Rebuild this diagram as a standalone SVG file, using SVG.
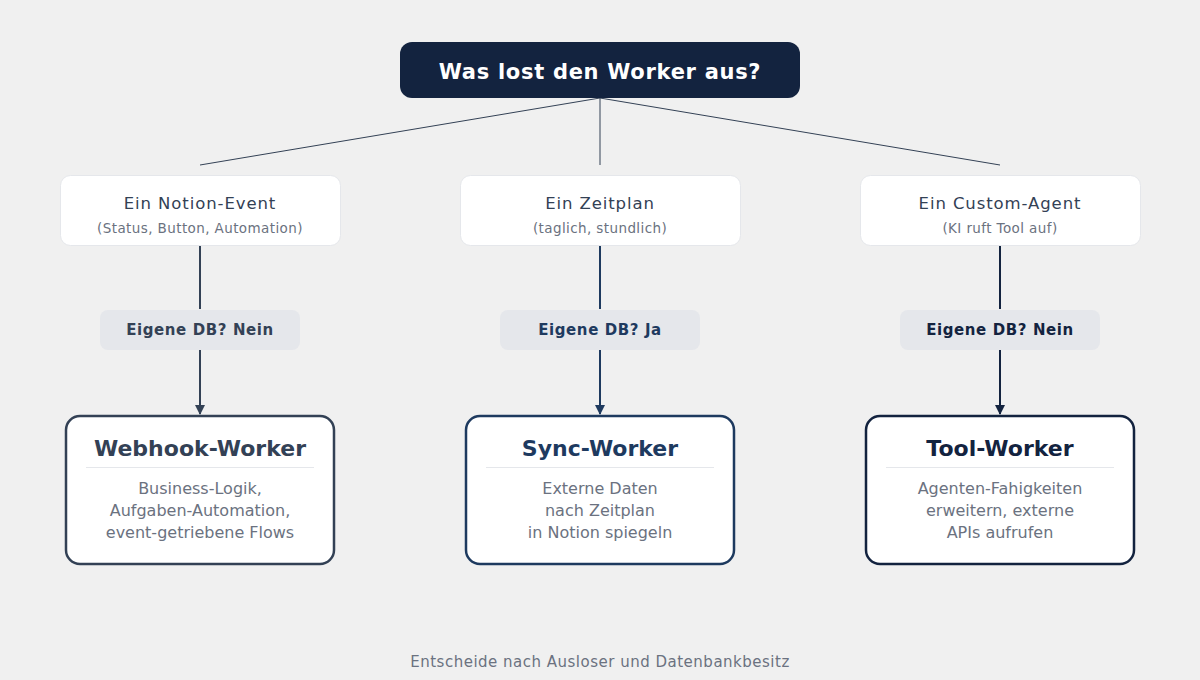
<svg xmlns="http://www.w3.org/2000/svg" width="1200" height="680" viewBox="0 0 1200 680">
<style>
text{font-family:"DejaVu Sans",sans-serif;text-anchor:middle}
.trig{fill:#fff;stroke:#e5e7eb;stroke-width:1}
.tt{font-size:16.5px;fill:#334155;letter-spacing:0.9px}
.ts{font-size:13.5px;fill:#6b7280;letter-spacing:0.4px}
.pill{fill:#e5e7eb}
.pt{font-size:15px;font-weight:bold;letter-spacing:0.6px}
.wk{fill:#fff;stroke-width:2.5}
.wt{font-size:22px;font-weight:bold}
.wb{font-size:16px;fill:#6b7280}
.div{stroke:#e5e7eb;stroke-width:1}
</style>
<defs>
<marker id="a1" markerWidth="10" markerHeight="10" refX="9" refY="5" orient="auto" markerUnits="userSpaceOnUse"><path d="M0,0L10,5L0,10z" fill="#334155"/></marker>
<marker id="a2" markerWidth="10" markerHeight="10" refX="9" refY="5" orient="auto" markerUnits="userSpaceOnUse"><path d="M0,0L10,5L0,10z" fill="#1e3a5f"/></marker>
<marker id="a3" markerWidth="10" markerHeight="10" refX="9" refY="5" orient="auto" markerUnits="userSpaceOnUse"><path d="M0,0L10,5L0,10z" fill="#13233f"/></marker>
</defs>
<rect width="1200" height="680" fill="#f0f0f0"/>
<g id="connectors" fill="none">
<path d="M600,98L200,165M600,98L600,165M600,98L1000,165" stroke="#334155" stroke-width="1"/>
<path d="M200,246V309M200,350V414" stroke="#334155" stroke-width="2" marker-end="url(#a1)"/>
<path d="M600,246V309M600,350V414" stroke="#1e3a5f" stroke-width="2" marker-end="url(#a2)"/>
<path d="M1000,246V309M1000,350V414" stroke="#13233f" stroke-width="2" marker-end="url(#a3)"/>
</g>
<g id="root"><rect x="400" y="42" width="400" height="56" rx="12" fill="#13233f"/><text x="600" y="79" font-size="21" font-weight="bold" fill="#fff" letter-spacing="0.7">Was lost den Worker aus?</text></g>
<g id="t1"><rect class="trig" x="60.5" y="175.5" width="280" height="70" rx="10"/><text class="tt" x="200" y="209">Ein Notion-Event</text><text class="ts" x="200" y="233">(Status, Button, Automation)</text></g>
<g id="t2"><rect class="trig" x="460.5" y="175.5" width="280" height="70" rx="10"/><text class="tt" x="600" y="209">Ein Zeitplan</text><text class="ts" x="600" y="233">(taglich, stundlich)</text></g>
<g id="t3"><rect class="trig" x="860.5" y="175.5" width="280" height="70" rx="10"/><text class="tt" x="1000" y="209">Ein Custom-Agent</text><text class="ts" x="1000" y="233">(KI ruft Tool auf)</text></g>
<g id="d1"><rect class="pill" x="100" y="310" width="200" height="40" rx="8"/><text class="pt" x="200" y="335" fill="#334155">Eigene DB? Nein</text></g>
<g id="d2"><rect class="pill" x="500" y="310" width="200" height="40" rx="8"/><text class="pt" x="600" y="335" fill="#1e3a5f">Eigene DB? Ja</text></g>
<g id="d3"><rect class="pill" x="900" y="310" width="200" height="40" rx="8"/><text class="pt" x="1000" y="335" fill="#13233f">Eigene DB? Nein</text></g>
<g id="w1"><rect class="wk" x="66" y="416" width="268" height="148" rx="14" stroke="#334155"/><text class="wt" x="200" y="456" fill="#334155">Webhook-Worker</text><line class="div" x1="86" y1="467.5" x2="314" y2="467.5"/><text class="wb" x="200" y="494">Business-Logik,</text><text class="wb" x="200" y="516">Aufgaben-Automation,</text><text class="wb" x="200" y="538">event-getriebene Flows</text></g>
<g id="w2"><rect class="wk" x="466" y="416" width="268" height="148" rx="14" stroke="#1e3a5f"/><text class="wt" x="600" y="456" fill="#1e3a5f">Sync-Worker</text><line class="div" x1="486" y1="467.5" x2="714" y2="467.5"/><text class="wb" x="600" y="494">Externe Daten</text><text class="wb" x="600" y="516">nach Zeitplan</text><text class="wb" x="600" y="538">in Notion spiegeln</text></g>
<g id="w3"><rect class="wk" x="866" y="416" width="268" height="148" rx="14" stroke="#13233f"/><text class="wt" x="1000" y="456" fill="#13233f">Tool-Worker</text><line class="div" x1="886" y1="467.5" x2="1114" y2="467.5"/><text class="wb" x="1000" y="494">Agenten-Fahigkeiten</text><text class="wb" x="1000" y="516">erweitern, externe</text><text class="wb" x="1000" y="538">APIs aufrufen</text></g>
<text x="600" y="667" font-size="15" fill="#6b7280" letter-spacing="0.5">Entscheide nach Ausloser und Datenbankbesitz</text>
</svg>
